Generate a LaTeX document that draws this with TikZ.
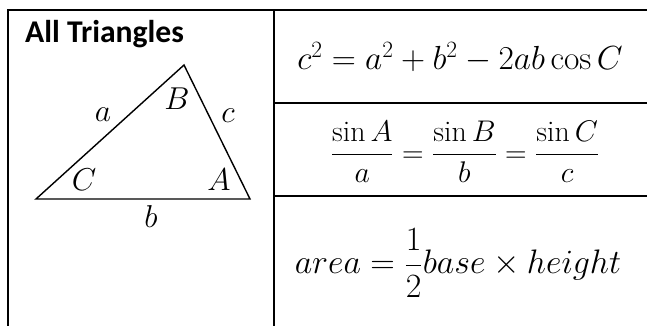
\RequirePackage{fix-cm}
\documentclass[tikz,border=0pt]{standalone}
\usepackage{amsmath}
\usepackage{fontspec}
\newfontfamily\headfont{Carlito}
\usepackage{tikz}

\begin{document}
\begin{tikzpicture}[x=0.03cm,y=-0.03cm,
  rule/.style={line width=1.8pt},
  side/.style={line width=1.2pt,line join=miter},
  big/.style={font=\fontsize{27}{32}\selectfont}]
\useasboundingbox (0,0) rectangle (647,326);
% table rules (open at right and bottom)
\draw[rule] (7,10) -- (647,10);
\draw[rule] (8,10) -- (8,326);
\draw[rule] (274,10) -- (274,326);
\draw[rule] (274,103) -- (647,103);
\draw[rule] (274,196) -- (647,196);
% left cell
\node[anchor=base west,font=\fontsize{27}{32}\selectfont] (title) at (21,42) {\headfont\bfseries All Triangles};
\coordinate (C) at (36,199);
\coordinate (B) at (184,65);
\coordinate (A) at (250,199);
\draw[side] (C) -- (B) -- (A) -- cycle;
\node[big] (sa) at (103,115) {$a$};
\node[big] (sc) at (228,116) {$c$};
\node[big] (sb) at (151,217) {$b$};
\node[big] (angB) at (177,99) {$B$};
\node[big] (angC) at (84,180) {$C$};
\node[big] (angA) at (219,180) {$A$};
% right cells
\node[font=\fontsize{28.5}{34}\selectfont] (cosrule) at (460,57) {$c^2=a^2+b^2-2ab\cos C$};
\node[font=\fontsize{25.5}{30}\selectfont] (sinrule) at (465,152) {$\displaystyle \frac{\sin A}{a}=\frac{\sin B}{b}=\frac{\sin C}{c}$};
\node[font=\fontsize{29}{34}\selectfont] (area) at (458,263) {$\displaystyle area=\frac{1}{2}base\times height$};
\end{tikzpicture}
\end{document}
